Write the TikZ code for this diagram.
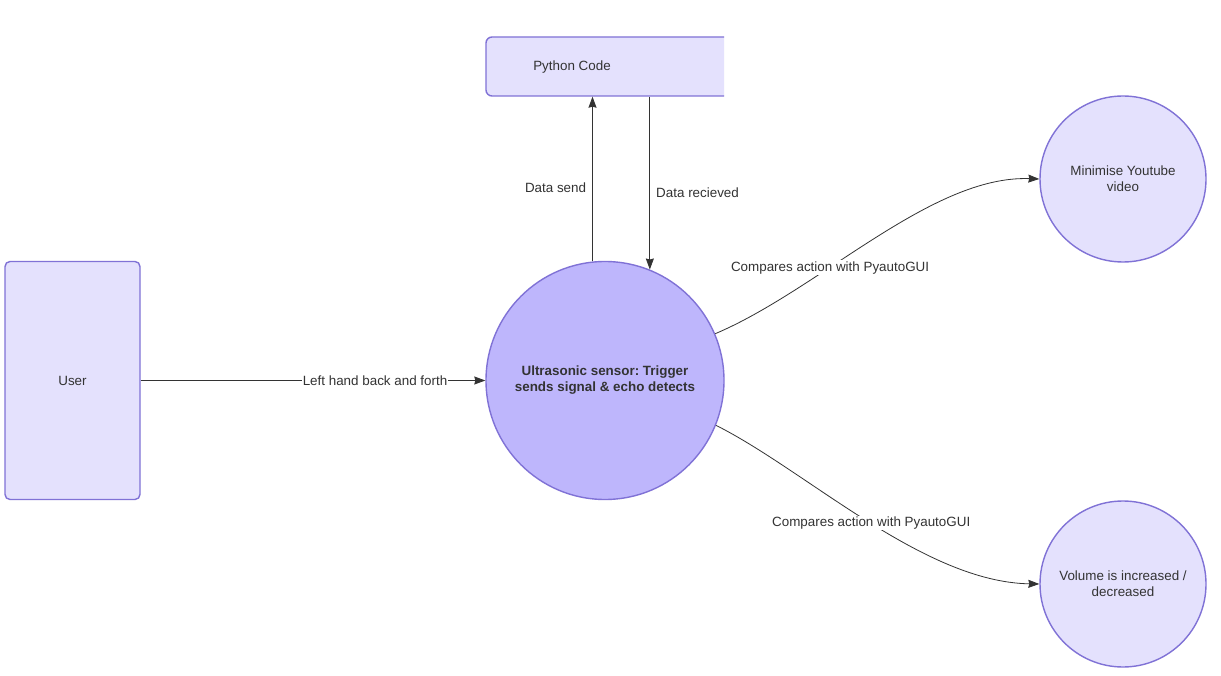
\documentclass[tikz,border=0pt]{standalone}
\usepackage{fontspec}
\setmainfont{Liberation Sans}
\frenchspacing
\usetikzlibrary{calc,arrows.meta}
\definecolor{sensorfill}{RGB}{190,182,252}
\definecolor{boxfill}{RGB}{228,225,253}
\definecolor{boxline}{RGB}{128,114,214}
\definecolor{txt}{RGB}{51,51,51}
\tikzset{
	shp/.style={draw=boxline, line width=1.4pt, fill=boxfill, text=txt, align=center, inner sep=0pt, font=\fontsize{13.4}{16}\selectfont},
	bub/.style={shp, circle},
	arr/.style={-{Stealth[length=11pt,width=8pt,inset=1pt]}, line width=0.8pt, draw=txt},
	lbl/.style={text=txt, fill=white, inner sep=1pt, font=\fontsize{13.4}{16}\selectfont}
}

\begin{document}
\begin{tikzpicture}[x=1pt,y=-1pt]
			\def\gap{5};
			\useasboundingbox[fill=white] (0,0) rectangle (1221,676);
			\begin{scope}
				\clip (478,28) rectangle (724,106);
				\node[shp, rounded corners=6pt, minimum width=250pt, minimum height=59pt] (python) at (611,66.5) {};
			\end{scope}
			\node[text=txt, font=\fontsize{13.4}{16}\selectfont] (pylabel) at (572,67) {Python Code};
			\node[shp, rounded corners=5pt, minimum width=135pt, minimum height=238pt] (user) at (72.5,380.5) {User};
			\node[bub, fill=sensorfill, minimum size=238pt, font=\fontsize{13.4}{16}\selectfont\bfseries] (sensor) at (605,380.5) {Ultrasonic sensor: Trigger\\sends signal \& echo detects};
			\node[bub, minimum size=166pt] (mini) at (1123,179) {Minimise Youtube\\video};
			\node[bub, minimum size=166pt] (volume) at (1123,584) {Volume is increased /\\decreased};
			\draw[arr] (user) -- node[lbl, pos=0.68] {Left hand back and forth} (sensor);
			\draw[arr] (sensor.96) -- node[lbl, anchor=east, xshift=-\gap, pos=0.45] {Data send} (sensor.96 |- python.south);
			\draw[arr] (python.south -| sensor.68) -- node[lbl, anchor=west, xshift=\gap, pos=0.555] {Data recieved} (sensor.68);
			\draw[arr] (sensor.23) .. controls +(104,-44) and +(-108,-4) .. node[lbl, pos=0.36] {Compares action with PyautoGUI} (mini.west);
			\draw[arr] (sensor.-22) .. controls +(90,45) and +(-116,-2) .. node[lbl, pos=0.51] {Compares action with PyautoGUI} (volume.west);
			\end{tikzpicture}
\end{document}
